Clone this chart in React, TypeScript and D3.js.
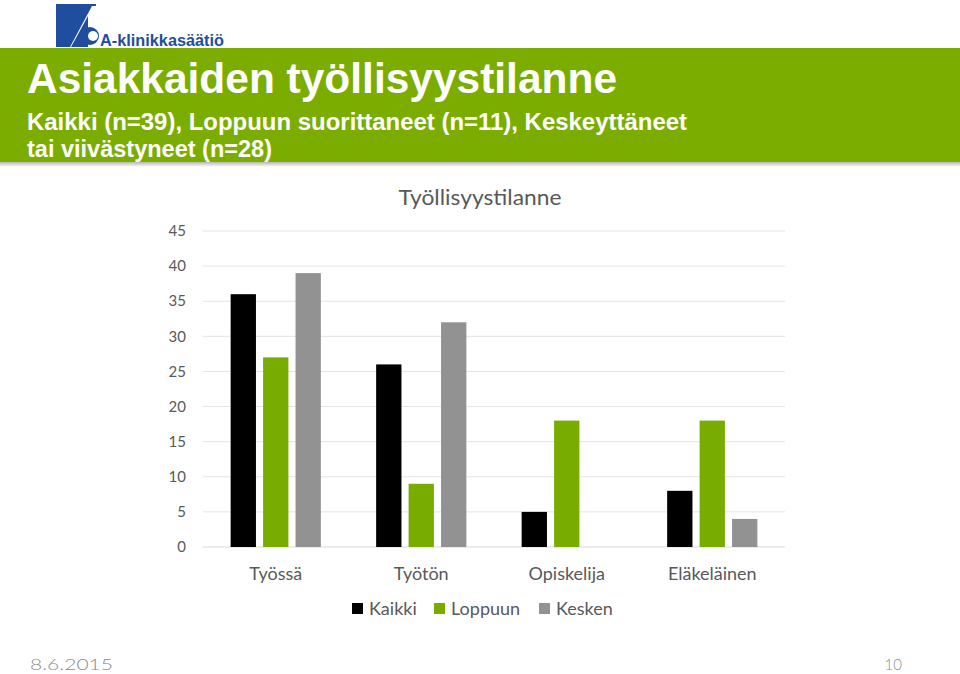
import React from "react";
import * as d3 from "d3";

const categories = ["Työssä", "Työtön", "Opiskelija", "Eläkeläinen"];
const seriesNames = ["Kaikki", "Loppuun", "Kesken"];
const kaikki = [36, 26, 5, 8];
const loppuun = [27, 9, 18, 18];
const kesken = [39, 32, 0, 4];
const yTicks = [0, 5, 10, 15, 20, 25, 30, 35, 40, 45];
const colors = ["#000000", "#78ad00", "#929292"];

const W = 960;
const H = 674;
const plot = { left: 203, right: 785, top: 231, bottom: 547 };

export default function App() {
  const series = [kaikki, loppuun, kesken];
  const x0 = d3.scaleBand<string>().domain(categories).range([plot.left, plot.right]).paddingInner(0.38).paddingOuter(0.19);
  const x1 = d3.scaleBand<string>().domain(seriesNames).range([0, x0.bandwidth()]).paddingInner(0.22);
  const y = d3.scaleLinear().domain([0, 45]).range([plot.bottom, plot.top]);
  const font = "Lato, 'Open Sans', sans-serif";
  const narrow = "'Liberation Sans Narrow', 'Arial Narrow', 'Liberation Sans', Arial, sans-serif";

  const legendItems = [
    { name: "Kaikki", x: 352 },
    { name: "Loppuun", x: 434 },
    { name: "Kesken", x: 539 },
  ];

  return (
    <svg width={W} height={H} style={{ position: "absolute", left: 0, top: 0, background: "#fff" }}>
      <defs>
        <linearGradient id="shadow" x1="0" y1="0" x2="0" y2="1">
          <stop offset="0" stopColor="#888" stopOpacity="0.6" />
          <stop offset="1" stopColor="#888" stopOpacity="0" />
        </linearGradient>
      </defs>
      <rect x={0} y={0} width={W} height={H} fill="#fff" />
      {/* logo */}
      <g>
        <path d="M56,4 L96,4 L96,20 L78,47 L56,47 Z" fill="#1f4e9e" />
        <path d="M70,47 L92,6 L96,6 L96,47 Z" fill="#fff" />
        <path d="M71,47 L88,16 L88,47 Z" fill="#1f4e9e" />
        <circle cx={90} cy={36} r={9} fill="#1f4e9e" />
        <circle cx={93} cy={36} r={5} fill="#fff" />
        <text x={100} y={46} fontFamily="'Liberation Sans', Arial, sans-serif" fontWeight="bold" fontSize={16} textLength={124} lengthAdjust="spacingAndGlyphs" fill="#1f4e9e">A-klinikkasäätiö</text>
      </g>
      {/* title bar */}
      <rect x={0} y={162} width={W} height={5} fill="url(#shadow)" />
      <rect x={0} y={48} width={W} height={114} fill="#7bad00" />
      <text x={27} y={93} fontFamily={narrow} fontWeight="bold" fontSize={42} textLength={590} lengthAdjust="spacingAndGlyphs" fill="#fff">Asiakkaiden työllisyystilanne</text>
      <text x={27} y={130} fontFamily={narrow} fontWeight="bold" fontSize={24} textLength={660} lengthAdjust="spacingAndGlyphs" fill="#fff">Kaikki (n=39), Loppuun suorittaneet (n=11), Keskeyttäneet</text>
      <text x={27} y={157} fontFamily={narrow} fontWeight="bold" fontSize={24} textLength={245} lengthAdjust="spacingAndGlyphs" fill="#fff">tai viivästyneet (n=28)</text>

      {/* chart title */}
      <text x={480} y={205} textAnchor="middle" fontFamily={font} fontSize={22} textLength={163} lengthAdjust="spacingAndGlyphs" fill="#595959">Työllisyystilanne</text>

      {/* grid & y ticks */}
      {yTicks.map((t) => (
        <g key={t}>
          <line x1={plot.left} x2={plot.right} y1={y(t)} y2={y(t)} stroke={t === 0 ? "#d9d9d9" : "#e4e4e4"} strokeWidth={1} />
          <text x={186} y={y(t)} dy="0.35em" textAnchor="end" fontFamily={font} fontSize={15} fill="#595959">{t}</text>
        </g>
      ))}

      {/* bars */}
      {categories.map((c, i) => (
        <g key={c}>
          {series.map((s, j) => (
            <rect
              key={j}
              x={(x0(c) ?? 0) + (x1(seriesNames[j]) ?? 0)}
              y={y(s[i])}
              width={x1.bandwidth()}
              height={plot.bottom - y(s[i])}
              fill={colors[j]}
            />
          ))}
          <text x={(x0(c) ?? 0) + x0.bandwidth() / 2} y={580} textAnchor="middle" fontFamily={font} fontSize={18} fill="#595959">{c}</text>
        </g>
      ))}

      {/* legend */}
      {legendItems.map((l, j) => (
        <g key={l.name}>
          <rect x={l.x} y={603} width={11} height={11} fill={colors[j]} />
          <text x={l.x + 17} y={615} fontFamily={font} fontSize={18} fill="#595959">{l.name}</text>
        </g>
      ))}

      {/* footer */}
      <text x={30} y={670} fontFamily={font} fontWeight={300} fontSize={15} textLength={83} lengthAdjust="spacingAndGlyphs" fill="#8c8c8c">8.6.2015</text>
      <text x={902} y={670} textAnchor="end" fontFamily={font} fontWeight={300} fontSize={15} fill="#8c8c8c">10</text>
    </svg>
  );
}
